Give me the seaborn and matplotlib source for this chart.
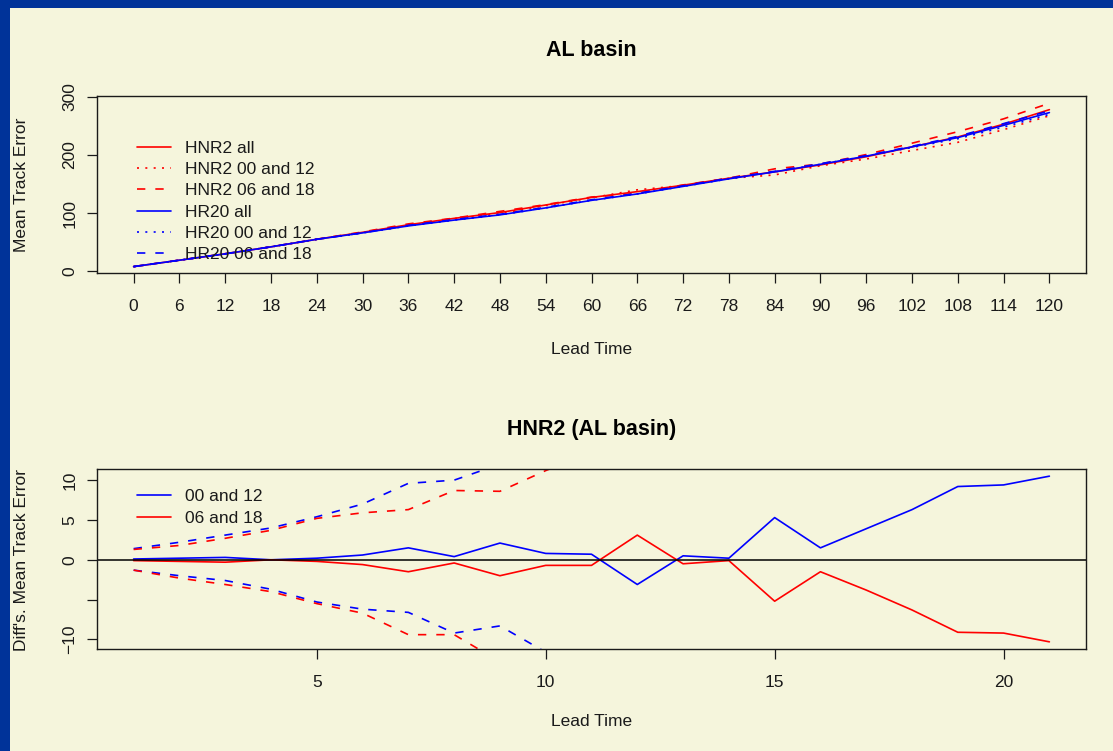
import matplotlib
matplotlib.use("Agg")
import matplotlib.pyplot as plt
from matplotlib.lines import Line2D
from matplotlib.patches import Rectangle
import numpy as np
import pandas as pd
import seaborn as sns

# ---------------- data ----------------
lead_time = [0, 6, 12, 18, 24, 30, 36, 42, 48, 54, 60, 66, 72, 78, 84, 90, 96, 102, 108, 114, 120]

hnr2_all = [8, 19, 30, 42, 55, 67, 80, 91, 101, 114, 127, 137, 148, 160, 171, 183, 197, 214, 231, 253, 278]
hnr2_0012 = [7.9, 18.8, 29.7, 42, 54.8, 66.4, 78.5, 90.6, 98.9, 113.2, 126.3, 140.1, 147.5, 159.8, 165.7, 181.5, 193.1, 207.7, 221.8, 243.6, 267.5]
hnr2_0618 = [8.1, 19.2, 30.3, 42, 55.2, 67.6, 81.5, 91.4, 103, 114.7, 127.7, 133.9, 148.5, 160.1, 176.2, 184.5, 200.8, 220.3, 240.1, 262.2, 289]
hr20_all = [8, 19, 30, 42, 55, 66, 78, 88, 97, 109, 122, 133, 146, 159, 171, 184, 198, 214, 230, 251, 273]
hr20_0012 = [8, 19, 30, 42, 55, 66, 78, 88, 97, 109, 122, 133, 146, 159, 171, 184, 198, 213, 228, 248, 270]
hr20_0618 = [8, 19, 30, 42, 55, 66, 79, 89, 98, 110, 123, 134, 147, 160, 172, 185, 199, 215, 232, 254, 276]

series_names = ["HNR2 all", "HNR2 00 and 12", "HNR2 06 and 18",
                "HR20 all", "HR20 00 and 12", "HR20 06 and 18"]

idx = list(range(1, 22))
diff_0012 = [0.1, 0.2, 0.3, 0.0, 0.2, 0.6, 1.5, 0.4, 2.1, 0.8, 0.7, -3.1, 0.5, 0.2, 5.3, 1.5, 3.9, 6.3, 9.2, 9.4, 10.5]
diff_0618 = [-0.1, -0.2, -0.3, 0.0, -0.2, -0.6, -1.5, -0.4, -2.0, -0.7, -0.7, 3.1, -0.5, -0.1, -5.2, -1.5, -3.8, -6.3, -9.1, -9.2, -10.3]

# confidence bounds (dashed), visible part plus the first point past the frame
upper_0012 = [1.4, 2.2, 3.1, 4.0, 5.4, 7.0, 9.6, 10.0, 12.0]
upper_0618 = [1.3, 1.8, 2.7, 3.7, 5.2, 5.9, 6.3, 8.7, 8.6, 11.2, 13.5]
lower_0012 = [-1.3, -2.0, -2.6, -3.7, -5.3, -6.2, -6.6, -9.2, -8.3, -11.6]
lower_0618 = [-1.3, -2.3, -3.1, -4.0, -5.5, -6.7, -9.4, -9.4, -12.8]

bottom_xticks = [5, 10, 15, 20]
bottom_yticks = [-10, -5, 0, 5, 10]
bottom_yticklabels = ["\u221210", "", "0", "5", "10"]
top_yticks = [0, 100, 200, 300]

# ---------------- style ----------------
BG = "#F5F5DC"
BORDER = "#003399"
RED = "#FF0000"
BLUE = "#0000FF"
INK = "#1a1a1a"
W, H = 1113, 751

sns.set_theme(style="ticks")
plt.rcParams['font.family'] = ['Liberation Sans', 'DejaVu Sans']
plt.rcParams['axes.unicode_minus'] = True

FS = 12.5
LW = 1.2
SOLID = ""
DOT = (1.2, 3.8)
DASH = (5, 6)

fig = plt.figure(figsize=(W / 100, H / 100), dpi=100, facecolor=BG)
fig.patches.append(Rectangle((0, 0), 10 / W, 1, transform=fig.transFigure,
                             facecolor=BORDER, edgecolor="none", zorder=0))
fig.patches.append(Rectangle((0, 1 - 8 / H), 1, 8 / H, transform=fig.transFigure,
                             facecolor=BORDER, edgecolor="none", zorder=0))


def px_axes(left, top, right, bottom):
    return fig.add_axes([left / W, 1 - bottom / H, (right - left) / W, (bottom - top) / H])


def style_axes(ax):
    ax.set_facecolor(BG)
    for s in ax.spines.values():
        s.set_color(INK)
        s.set_linewidth(1.0)
        s.set_visible(True)
    ax.tick_params(axis="both", direction="out", length=7, width=0.9, color=INK,
                   labelsize=FS, labelcolor=INK)
    ax.tick_params(axis="x", pad=11.5)
    ax.tick_params(axis="y", pad=7, labelrotation=90)
    ax.grid(False)


# ---------------- top panel ----------------
ax1 = px_axes(97, 96, 1086, 273)
style_axes(ax1)

top_df = pd.DataFrame({
    "lead": lead_time * 6,
    "err": hnr2_all + hnr2_0012 + hnr2_0618 + hr20_all + hr20_0012 + hr20_0618,
    "series": sum([[n] * len(lead_time) for n in series_names], []),
})
palette = {n: (RED if n.startswith("HNR2") else BLUE) for n in series_names}
dashes = {}
for n in series_names:
    dashes[n] = SOLID if n.endswith("all") else (DOT if "00" in n else DASH)

sns.lineplot(data=top_df, x="lead", y="err", hue="series", style="series",
             palette=palette, dashes=dashes, hue_order=series_names,
             style_order=series_names, linewidth=LW, legend=False, ax=ax1,
             estimator=None, sort=False)

ax1.set_xlim(-4.8, 124.8)
ax1.set_ylim(-3, 301.5)
ax1.set_xticks(lead_time)
ax1.set_xticklabels([str(v) for v in lead_time])
ax1.set_yticks(top_yticks)
ax1.set_yticklabels([str(v) for v in top_yticks])
ax1.set_xlabel("")
ax1.set_ylabel("")
plt.setp(ax1.get_yticklabels(), va="center")

handles1 = []
for n in series_names:
    h = Line2D([], [], color=palette[n], linewidth=LW)
    if dashes[n] != SOLID:
        h.set_dashes(dashes[n])
    handles1.append(h)
ax1.legend(handles1, series_names, loc="upper left",
           bbox_to_anchor=(137 / W, 1 - 141 / H), bbox_transform=fig.transFigure,
           frameon=False, fontsize=FS, borderpad=0, borderaxespad=0,
           handlelength=1.96, handletextpad=0.8, labelspacing=0.345,
           labelcolor=INK)

# ---------------- bottom panel ----------------
ax2 = px_axes(97, 469, 1086, 649)
style_axes(ax2)

sns.lineplot(x=idx, y=diff_0012, color=BLUE, linewidth=LW, ax=ax2, estimator=None, sort=False)
sns.lineplot(x=idx, y=diff_0618, color=RED, linewidth=LW, ax=ax2, estimator=None, sort=False)
sns.lineplot(x=idx[:len(upper_0012)], y=upper_0012, color=BLUE, linewidth=LW,
             ax=ax2, estimator=None, sort=False, linestyle=(0, DASH))
sns.lineplot(x=idx[:len(upper_0618)], y=upper_0618, color=RED, linewidth=LW,
             ax=ax2, estimator=None, sort=False, linestyle=(0, DASH))
sns.lineplot(x=idx[:len(lower_0012)], y=lower_0012, color=BLUE, linewidth=LW,
             ax=ax2, estimator=None, sort=False, linestyle=(0, DASH))
sns.lineplot(x=idx[:len(lower_0618)], y=lower_0618, color=RED, linewidth=LW,
             ax=ax2, estimator=None, sort=False, linestyle=(0, DASH))
ax2.axhline(0, color="black", linewidth=1.1)

ax2.set_xlim(0.2, 21.8)
ax2.set_ylim(-11.2, 11.4)
ax2.set_xticks(bottom_xticks)
ax2.set_xticklabels([str(v) for v in bottom_xticks])
ax2.set_yticks(bottom_yticks)
ax2.set_yticklabels(bottom_yticklabels)
ax2.set_xlabel("")
ax2.set_ylabel("")
plt.setp(ax2.get_yticklabels(), va="center")

handles2 = [Line2D([], [], color=BLUE, linewidth=LW),
            Line2D([], [], color=RED, linewidth=LW)]
ax2.legend(handles2, ["00 and 12", "06 and 18"], loc="upper left",
           bbox_to_anchor=(137 / W, 1 - 489 / H), bbox_transform=fig.transFigure,
           frameon=False, fontsize=FS, borderpad=0, borderaxespad=0,
           handlelength=1.96, handletextpad=0.8, labelspacing=0.39,
           labelcolor=INK)

# ---------------- titles and axis labels ----------------
cx = (97 + 1086) / 2 / W
fig.text(cx, 1 - 50 / H, "AL basin", ha="center", va="center",
         fontsize=15.5, fontweight="bold", color="black")
fig.text(cx, 1 - 430 / H, "HNR2 (AL basin)", ha="center", va="center",
         fontsize=15.5, fontweight="bold", color="black")
fig.text(cx, 1 - 349 / H, "Lead Time", ha="center", va="center", fontsize=FS, color=INK)
fig.text(cx, 1 - 722 / H, "Lead Time", ha="center", va="center", fontsize=FS, color=INK)
fig.text(22 / W, 1 - 184.5 / H, "Mean Track Error", ha="center", va="center",
         rotation=90, fontsize=FS, color=INK)
fig.text(22 / W, 1 - 560 / H, "Diff's. Mean Track Error", ha="center", va="center",
         rotation=90, fontsize=FS, color=INK)

fig.savefig("out.png", dpi=100, facecolor=BG)
